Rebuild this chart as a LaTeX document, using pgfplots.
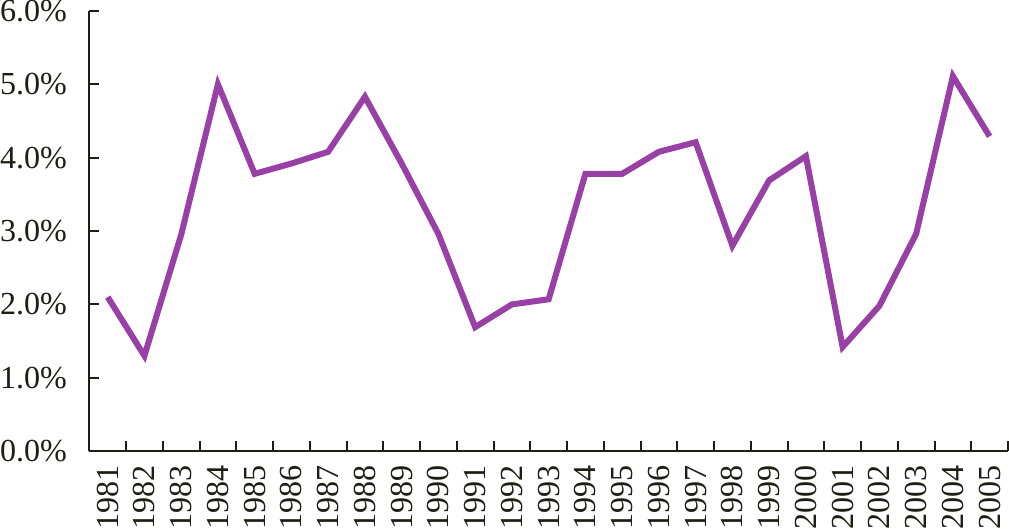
\documentclass[border=0pt]{standalone}
\usepackage{fontspec}
\setmainfont{Liberation Serif}
\usepackage{pgfplots}
\pgfplotsset{compat=1.18}
\definecolor{lineP}{RGB}{152,64,166}
\definecolor{axc}{RGB}{30,30,20}
\begin{document}
\begin{tikzpicture}
\begin{axis}[
  scale only axis, width=458pt, height=219.5pt,
  xmin=-0.5, xmax=24.5, ymin=0, ymax=6,
  axis lines=left,
  axis line style={axc, line width=1pt, -},
  xtick={0,...,24},
  xticklabels={1981,1982,1983,1984,1985,1986,1987,1988,1989,1990,1991,1992,1993,1994,1995,1996,1997,1998,1999,2000,2001,2002,2003,2004,2005},
  major x tick style={draw=none},
  minor xtick={-0.5,0.5,...,24.5},
  minor tick length=5pt,
  major tick length=5pt,
  minor x tick style={axc, line width=1pt},
  ytick={0,1,2,3,4,5,6},
  yticklabels={0.0\%,1.0\%,2.0\%,3.0\%,4.0\%,5.0\%,6.0\%},
  major y tick style={axc, line width=1pt},
  tick align=inside,
  xticklabel style={rotate=90, anchor=east, inner sep=0pt, font=\fontsize{16}{19}\selectfont, text=axc},
  xticklabel shift=7pt,
  yticklabel style={inner sep=0pt, font=\fontsize{16}{19}\selectfont, text=axc},
  yticklabel shift=11pt,
  /pgf/number format/assume math mode=true,
  clip=false,
]
\addplot[color=lineP, line width=3pt, line join=miter, mark=none] coordinates {
(0,2.10) (1,1.30) (2,2.95) (3,5.00) (4,3.78) (5,3.92) (6,4.08) (7,4.83)
(8,3.92) (9,2.96) (10,1.69) (11,2.00) (12,2.07) (13,3.78) (14,3.78)
(15,4.08) (16,4.21) (17,2.80) (18,3.69) (19,4.02) (20,1.42) (21,1.98)
(22,2.96) (23,5.11) (24,4.29)
};
\end{axis}
\end{tikzpicture}
\end{document}
